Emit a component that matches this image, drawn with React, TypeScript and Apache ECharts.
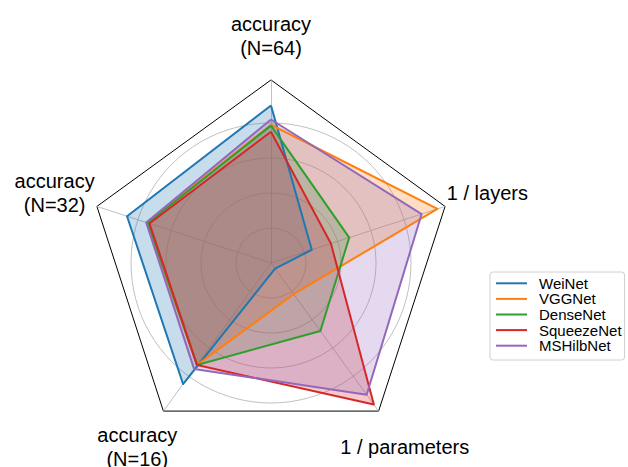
import { useEffect, useRef } from 'react';
import * as echarts from 'echarts';

// Axis names, counter-clockwise from the top
const axisNames = ['accuracy\n(N=64)', 'accuracy\n(N=32)', 'accuracy\n(N=16)', '1 / parameters', '1 / layers'];

const modelNames = ['WeiNet', 'VGGNet', 'DenseNet', 'SqueezeNet', 'MSHilbNet'];
const modelColors = ['#1f77b4', '#ff7f0e', '#2ca02c', '#d62728', '#9467bd'];

// Normalised scores per model, in axis order
const weiNet = [0.9, 0.865, 0.855, 0.04, 0.245];
const vggNet = [0.79, 0.745, 0.72, 0.22, 1.0];
const denseNet = [0.785, 0.74, 0.72, 0.48, 0.47];
const squeezeNet = [0.75, 0.73, 0.72, 1.0, 0.36];
const msHilbNet = [0.82, 0.75, 0.748, 0.93, 0.905];
const modelValues = [weiNet, vggNet, denseNet, squeezeNet, msHilbNet];

// Radial layout (pixels per unit score, frame and label rings in score units)
const CENTER: [number, number] = [271, 263];
const UNIT_RADIUS = 175;
const FRAME_LIMIT = 1.046;
const LABEL_RING = 1.3;
const GRID_COLOR = '#b0b0b0';
const FONT = '"Liberation Sans", Arial, Helvetica, sans-serif';

export default function App() {
  const ref = useRef<HTMLDivElement>(null);

  useEffect(() => {
    if (!ref.current) return;
    const chart = echarts.init(ref.current, undefined, { renderer: 'svg' });

    // translucent fills go underneath every outline
    const fillSeries = modelNames.map((name, i) => ({
      type: 'radar',
      radarIndex: 1,
      name: `${name} fill`,
      silent: true,
      symbol: 'none',
      color: modelColors[i],
      lineStyle: { width: 0, opacity: 0 },
      areaStyle: { color: modelColors[i], opacity: 0.25 },
      emphasis: { disabled: true },
      data: [{ name, value: modelValues[i] }],
    }));

    const lineSeries = modelNames.map((name, i) => ({
      type: 'radar',
      radarIndex: 1,
      name,
      symbol: 'none',
      color: modelColors[i],
      lineStyle: { color: modelColors[i], width: 2 },
      itemStyle: { color: modelColors[i] },
      emphasis: { disabled: true },
      data: [{ name, value: modelValues[i] }],
    }));

    const option = {
      animation: false,
      backgroundColor: '#ffffff',
      textStyle: { fontFamily: FONT },
      radar: [
        {
          // pentagon frame and spokes
          center: CENTER,
          radius: UNIT_RADIUS * FRAME_LIMIT,
          startAngle: 90,
          shape: 'polygon',
          splitNumber: 1,
          indicator: axisNames.map(() => ({ name: '', min: 0, max: 1 })),
          axisName: { show: false },
          axisLine: { lineStyle: { color: GRID_COLOR, width: 0.8 } },
          axisTick: { show: false },
          axisLabel: { show: false },
          splitLine: { lineStyle: { color: ['rgba(0,0,0,0)', '#000000'], width: 1 } },
          splitArea: { show: false },
        },
        {
          // score scale with circular grid at 0.2 … 0.8
          center: CENTER,
          radius: UNIT_RADIUS,
          startAngle: 90,
          shape: 'circle',
          splitNumber: 5,
          indicator: axisNames.map((name) => ({ name, min: 0, max: 1 })),
          axisName: { show: false },
          axisLine: { show: false },
          axisTick: { show: false },
          axisLabel: { show: false },
          splitLine: {
            lineStyle: {
              color: ['rgba(0,0,0,0)', GRID_COLOR, GRID_COLOR, GRID_COLOR, GRID_COLOR, 'rgba(0,0,0,0)'],
              width: 0.8,
            },
          },
          splitArea: { show: false },
        },
        {
          // ring on which the axis names are centred
          center: CENTER,
          radius: UNIT_RADIUS * LABEL_RING,
          startAngle: 90,
          shape: 'polygon',
          indicator: axisNames.map((name, i) => ({ name, min: 0, max: i + 1 })),
          axisName: { show: false },
          axisLine: { show: false },
          axisTick: { show: false },
          axisLabel: { show: false },
          splitLine: { show: false },
          splitArea: { show: false },
        },
      ],
      legend: {
        data: modelNames,
        orient: 'vertical',
        left: 490,
        top: 272,
        icon: 'rect',
        itemWidth: 31,
        itemHeight: 2,
        itemGap: 0,
        padding: [3.5, 3, 6.5, 6],
        backgroundColor: '#ffffff',
        borderColor: '#d0d0d0',
        borderWidth: 1,
        borderRadius: 3,
        itemStyle: { borderWidth: 0 },
        textStyle: {
          fontFamily: FONT,
          fontSize: 15,
          lineHeight: 15.6,
          color: '#000000',
          padding: [0, 0, 0, 7],
        },
      },
      series: [
        ...fillSeries,
        ...lineSeries,
        {
          type: 'radar',
          radarIndex: 2,
          name: 'axis names',
          silent: true,
          symbol: 'circle',
          symbolSize: 1,
          itemStyle: { color: 'rgba(0,0,0,0)' },
          lineStyle: { width: 0, opacity: 0 },
          emphasis: { disabled: true },
          label: {
            show: true,
            position: 'inside',
            color: '#000000',
            fontFamily: FONT,
            fontSize: 20,
            lineHeight: 24,
            align: 'center',
            verticalAlign: 'middle',
            formatter: (p: { value: number }) => axisNames[Math.round(p.value) - 1],
          },
          data: [{ name: 'axis names', value: axisNames.map((_, i) => i + 1) }],
        },
      ],
    };

    chart.setOption(option as echarts.EChartsOption);
    return () => chart.dispose();
  }, []);

  return (
    <div
      ref={ref}
      style={{ position: 'absolute', left: 0, top: 0, width: 628, height: 467 }}
    />
  );
}
